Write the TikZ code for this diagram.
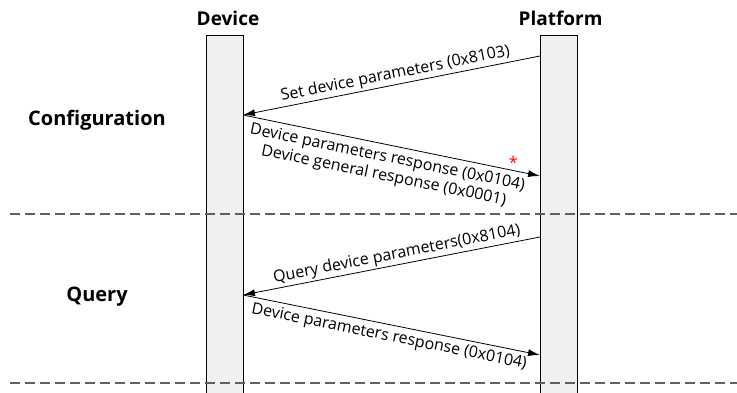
\documentclass[tikz,border=0pt]{standalone}
\usepackage{fontspec}
\setmainfont{Open Sans}
\usepackage{tikz}
\usetikzlibrary{arrows.meta}
\definecolor{barfill}{HTML}{F0F0F0}
\definecolor{dashgray}{HTML}{606060}

\tikzset{
  lifebar/.style={draw, line width=0.8pt, fill=barfill, minimum width=37pt, minimum height=360pt, inner sep=0pt, anchor=north},
  actor/.style={font=\fontsize{19}{21}\selectfont\bfseries},
  phase/.style={font=\fontsize{20}{21}\selectfont\bfseries},
  msg/.style={line width=0.8pt, -{Latex[length=12pt, width=7pt]}},
  msglabel/.style={font=\fontsize{16}{18.5}\selectfont, sloped, inner sep=1pt},
  sep/.style={dashgray, line width=1.3pt, dash pattern=on 10pt off 5pt}
}

\begin{document}
\begin{tikzpicture}[x=1pt, y=-1pt]
  \useasboundingbox (0,0) rectangle (737,392);

  \node[lifebar] (devbar) at (224.5,35) {};
  \node[lifebar] (platbar) at (558.5,35) {};
  \node[actor] (dev) at (228,18) {Device};
  \node[actor] (plat) at (560.5,18) {Platform};

  \node[phase] (config) at (97,120) {Configuration};
  \node[phase] (query) at (97,297) {Query};

  \coordinate (sep1l) at (10,214);
  \coordinate (sep1r) at (737,214);
  \coordinate (sep2l) at (10,383);
  \coordinate (sep2r) at (737,383);
  \draw[sep] (sep1l) -- (sep1r);
  \draw[sep] (sep2l) -- (sep2r);

  \coordinate (p1) at (540,56);
  \coordinate (d1) at (243,115);
  \coordinate (p2) at (540,176);
  \coordinate (p3) at (540,237);
  \coordinate (d3) at (243,295);
  \coordinate (p4) at (540,355);

  \draw[msg] (p1) -- node[msglabel, above=1pt, pos=0.48] {Set device parameters (0x8103)} (d1);
  \draw[msg] (d1) -- node[msglabel, below=4pt, pos=0.495, align=center] {Device parameters response (0x0104)\\Device general response (0x0001)}
    node[pos=0.91, above=-2pt, text=red, font=\fontsize{16}{16}\selectfont] (star) {*} (p2);
  \draw[msg] (p3) -- node[msglabel, above=1pt, pos=0.475] {Query device parameters(0x8104)} (d3);
  \draw[msg] (d3) -- node[msglabel, below=3pt, pos=0.5] {Device parameters response (0x0104)} (p4);
\end{tikzpicture}
\end{document}
